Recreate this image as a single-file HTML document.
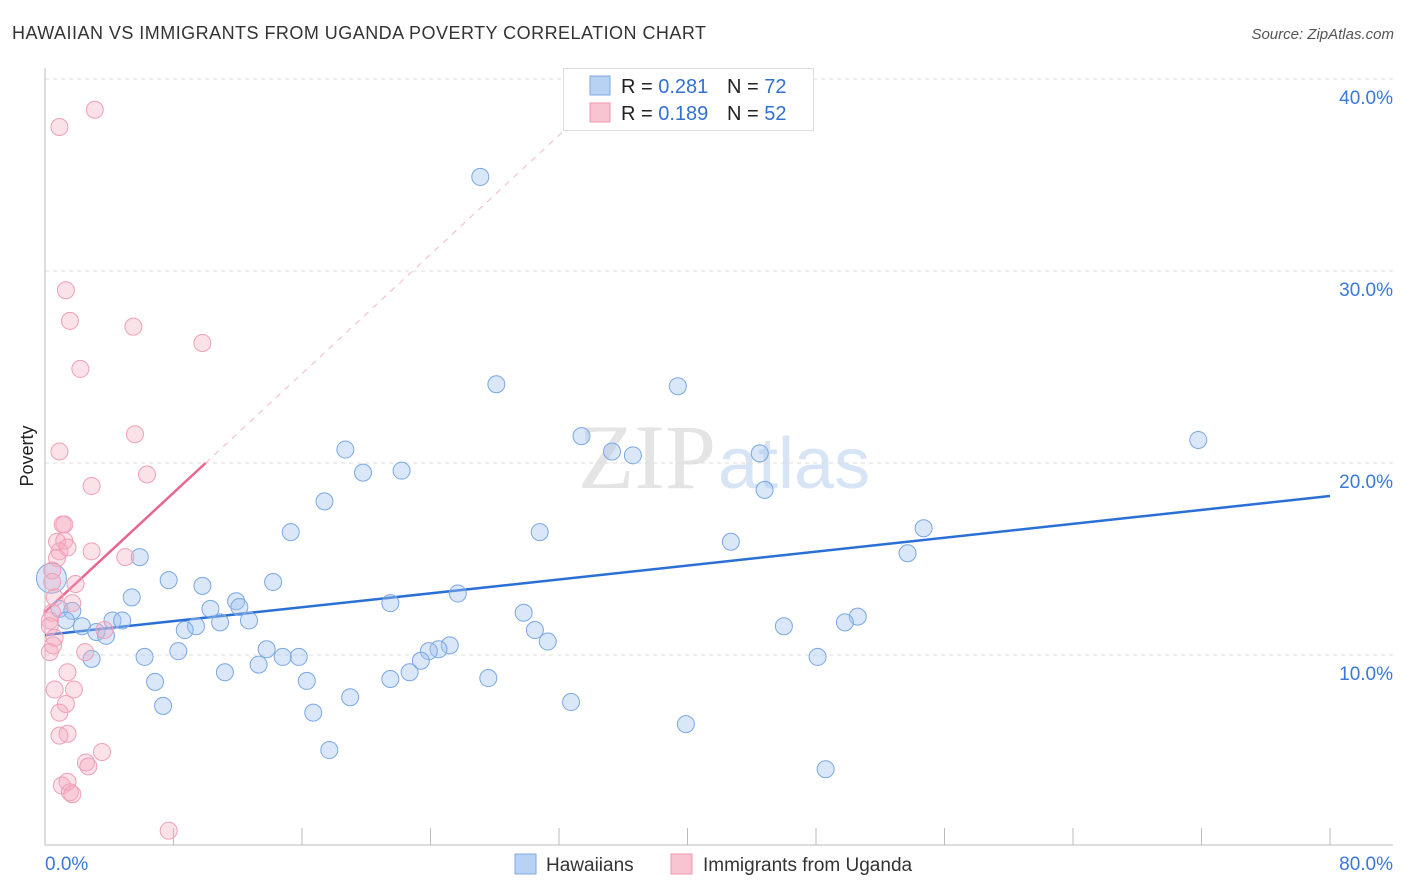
<!DOCTYPE html>
<html><head><meta charset="utf-8"><style>
body{margin:0;background:#fff;font-family:"Liberation Sans",sans-serif;}
svg{display:block}
</style></head><body>
<svg id="chart" width="1406" height="892" xmlns="http://www.w3.org/2000/svg">
<text x="12" y="39" font-size="18" fill="#333" textLength="694">HAWAIIAN VS IMMIGRANTS FROM UGANDA POVERTY CORRELATION CHART</text>
<text x="1394" y="39" font-size="15" fill="#555" text-anchor="end" font-style="italic">Source: ZipAtlas.com</text>
<text x="716" y="488" font-size="92" fill="#e4e4e4" text-anchor="end" font-family="Liberation Serif">ZIP</text>
<text x="718" y="488" font-size="72" fill="#d6e4f5">atlas</text>
<g id="grid"></g>
<g id="axes"></g>
<g id="lines"></g>
<g id="points"></g>
<text transform="translate(33,456) rotate(-90)" font-size="18" fill="#222" text-anchor="middle">Poverty</text>
<g>
<rect x="563.5" y="68.5" width="250" height="62" fill="#fff" stroke="#ddd"/>
<rect x="590" y="76" width="20" height="19" fill="#b8d2f4" stroke="#7fa8e0"/>
<rect x="590" y="103" width="20" height="19" fill="#f9c4d2" stroke="#ee95ae"/>
<text x="621" y="93" font-size="20" fill="#222">R = <tspan fill="#3470d0">0.281</tspan><tspan x="727">N = </tspan><tspan fill="#3470d0">72</tspan></text>
<text x="621" y="120" font-size="20" fill="#222">R = <tspan fill="#3470d0">0.189</tspan><tspan x="727">N = </tspan><tspan fill="#3470d0">52</tspan></text>
</g>
<g>
<rect x="515" y="854" width="21" height="20" fill="#b8d2f4" stroke="#7fa8e0"/>
<text x="546" y="871" font-size="19" fill="#333">Hawaiians</text>
<rect x="671" y="854" width="21" height="20" fill="#f9c4d2" stroke="#ee95ae"/>
<text x="703" y="871" font-size="19" fill="#333">Immigrants from Uganda</text>
</g>
</svg>
<script>
const yTicks=[10,20,30,40];
const xTickLabels=["0.0%","80.0%"];
const blueX=[27.1,28.1,39.4,71.8,33.4,35.3,36.6,44.5,18.7,22.2,19.8,44.8,17.4,54.7,15.3,30.8,42.7,53.7,5.9,0.4,7.7,9.8,14.2,5.4,11.9,25.7,12.1,21.5,0.9,1.7,10.3,29.8,4.2,4.8,1.3,12.7,10.9,9.4,50.6,49.8,2.3,8.7,3.2,3.8,30.5,46.0,31.3,25.2,24.5,23.9,8.3,13.8,15.8,14.8,6.2,2.9,48.1,23.4,13.3,11.2,22.7,21.5,27.6,16.3,6.85,19.0,7.35,32.75,16.7,39.9,17.7,48.6];
const blueY=[34.9,24.1,24.0,21.2,21.4,20.6,20.4,20.5,20.7,19.6,19.5,18.6,18.0,16.6,16.4,16.4,15.9,15.3,15.1,14.0,13.9,13.6,13.8,13.0,12.8,13.2,12.5,12.7,12.4,12.3,12.4,12.2,11.8,11.8,11.8,11.8,11.7,11.5,12.0,11.7,11.5,11.3,11.2,11.0,11.3,11.5,10.7,10.5,10.3,10.2,10.2,10.3,9.9,9.9,9.9,9.8,9.9,9.7,9.5,9.1,9.1,8.75,8.8,8.65,8.6,7.8,7.35,7.55,7.0,6.4,5.05,4.05];
const pinkX=[3.1,0.9,1.3,1.55,5.5,9.8,2.2,5.6,0.9,6.35,2.9,1.1,1.2,0.75,1.2,1.4,0.9,2.9,0.75,5.0,0.45,0.45,1.9,0.6,1.7,0.45,0.3,0.3,3.7,0.6,0.5,0.3,2.5,1.4,0.6,1.8,1.3,0.9,1.4,0.9,3.55,2.55,2.7,1.4,1.05,1.55,1.7,7.7];
const pinkY=[38.4,37.5,29.0,27.4,27.1,26.25,24.9,21.5,20.6,19.4,18.8,16.8,16.8,15.9,15.95,15.6,15.4,15.4,15.05,15.1,14.4,13.8,13.7,13.0,12.7,12.2,11.8,11.5,11.3,10.9,10.5,10.15,10.15,9.1,8.2,8.2,7.45,7.0,5.9,5.8,4.95,4.4,4.2,3.4,3.2,2.85,2.75,0.85];
const blueTrend=[11.04,18.28];
const pinkTrend=[12.24,20.0];
const NS="http://www.w3.org/2000/svg";
const X0=45,X1=1330,Y0=847,PY=19.2;
const xs=v=>X0+v*(X1-X0)/80;
const ys=v=>Y0-v*PY;
function mk(tag,attrs,parent){const e=document.createElementNS(NS,tag);for(const k in attrs)e.setAttribute(k,attrs[k]);parent.appendChild(e);return e;}
const grid=document.getElementById('grid'),axes=document.getElementById('axes'),lines=document.getElementById('lines'),pts=document.getElementById('points');
yTicks.forEach(t=>{
 const l=mk('line',{x1:45,x2:1393,y1:ys(t),y2:ys(t),stroke:'#dcdcdc','stroke-dasharray':'4,4'},grid);
 
 
 const tx=mk('text',{x:1393,y:ys(t)+25,'font-size':19,fill:'#3b78d8','text-anchor':'end'},axes);
 tx.textContent=t.toFixed(1)+'%';
 
 
});
const ya=mk('line',{x1:45,x2:45,y1:68,y2:845,stroke:'#bbb'},axes);


const xa=mk('line',{x1:45,x2:1393,y1:845,y2:845,stroke:'#bbb'},axes);


for(let k=1;k<=10;k++){const v=k*8;const t=mk('line',{x1:xs(v),x2:xs(v),y1:845,y2:828,stroke:'#bbb'},axes);
 
 }
const xl0=mk('text',{x:45,y:870,'font-size':19,fill:'#3b78d8'},axes);xl0.textContent=xTickLabels[0];


const xl1=mk('text',{x:1393,y:870,'font-size':19,fill:'#3b78d8','text-anchor':'end'},axes);xl1.textContent=xTickLabels[1];


const slope=(pinkTrend[1]-pinkTrend[0])/10;
const xe=(40-pinkTrend[0])/slope;
const pd=mk('line',{x1:xs(10),y1:ys(pinkTrend[1]),x2:xs(xe),y2:ys(40),stroke:'#f0b8c8','stroke-dasharray':'6,6','stroke-width':1},lines);


const bl=mk('line',{x1:xs(0),y1:ys(blueTrend[0]),x2:xs(80),y2:ys(blueTrend[1]),stroke:'#2a6fd6','stroke-width':2.5},lines);


const pl=mk('line',{x1:xs(0),y1:ys(pinkTrend[0]),x2:xs(10),y2:ys(pinkTrend[1]),stroke:'#e8668e','stroke-width':2.5},lines);


blueX.forEach((x,i)=>{const c=mk('circle',{cx:xs(x),cy:ys(blueY[i]),r:(i==19?15:8.5),fill:'rgba(160,196,240,0.4)',stroke:'#7aa8e4','stroke-width':1},pts);
 
 });
pinkX.forEach((x,i)=>{const c=mk('circle',{cx:xs(x),cy:ys(pinkY[i]),r:8.5,fill:'rgba(244,170,190,0.35)',stroke:'#f0a0b6','stroke-width':1},pts);
 
 });
</script>
</body></html>
